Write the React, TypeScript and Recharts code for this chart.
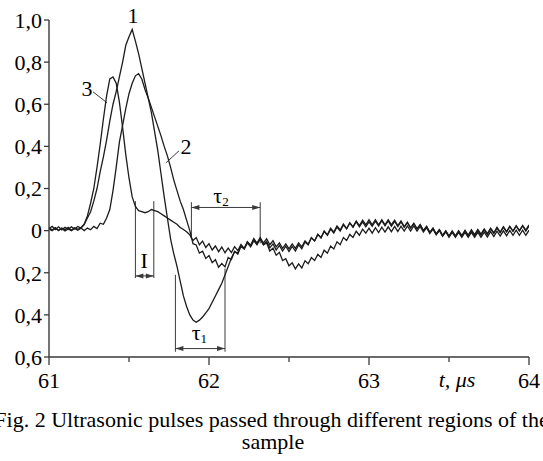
import React from 'react';
import { LineChart, Line, XAxis, YAxis, ReferenceLine, ReferenceDot } from 'recharts';

// sampling instants, µs
const time = [
  61.0, 61.02, 61.04, 61.06, 61.08, 61.1, 61.12, 61.14, 61.16, 61.18,
  61.2, 61.22, 61.24, 61.26, 61.28, 61.3, 61.32, 61.34, 61.36, 61.38,
  61.4, 61.42, 61.44, 61.46, 61.48, 61.5, 61.52, 61.54, 61.56, 61.58,
  61.6, 61.62, 61.64, 61.66, 61.68, 61.7, 61.72, 61.74, 61.76, 61.78,
  61.8, 61.82, 61.84, 61.86, 61.88, 61.9, 61.92, 61.94, 61.96, 61.98,
  62.0, 62.02, 62.04, 62.06, 62.08, 62.1, 62.12, 62.14, 62.16, 62.18,
  62.2, 62.22, 62.24, 62.26, 62.28, 62.3, 62.32, 62.34, 62.36, 62.38,
  62.4, 62.42, 62.44, 62.46, 62.48, 62.5, 62.52, 62.54, 62.56, 62.58,
  62.6, 62.62, 62.64, 62.66, 62.68, 62.7, 62.72, 62.74, 62.76, 62.78,
  62.8, 62.82, 62.84, 62.86, 62.88, 62.9, 62.92, 62.94, 62.96, 62.98,
  63.0, 63.02, 63.04, 63.06, 63.08, 63.1, 63.12, 63.14, 63.16, 63.18,
  63.2, 63.22, 63.24, 63.26, 63.28, 63.3, 63.32, 63.34, 63.36, 63.38,
  63.4, 63.42, 63.44, 63.46, 63.48, 63.5, 63.52, 63.54, 63.56, 63.58,
  63.6, 63.62, 63.64, 63.66, 63.68, 63.7, 63.72, 63.74, 63.76, 63.78,
  63.8, 63.82, 63.84, 63.86, 63.88, 63.9, 63.92, 63.94, 63.96, 63.98,
  64.0,
];

const pulse1 = [
  0.01, 0.02, 0.005, 0.018, 0.004, 0.016, 0.006, 0.018, 0.008, 0.02,
  0.012, 0.03, 0.06, 0.09, 0.14, 0.2, 0.28, 0.35, 0.43, 0.52,
  0.6, 0.66, 0.73, 0.8, 0.88, 0.92, 0.955, 0.9, 0.84, 0.77,
  0.7, 0.63, 0.56, 0.47, 0.38, 0.27, 0.16, 0.06, -0.04, -0.11,
  -0.17, -0.24, -0.31, -0.36, -0.4, -0.425, -0.435, -0.425, -0.41, -0.39,
  -0.37, -0.34, -0.31, -0.28, -0.25, -0.21, -0.17, -0.13, -0.1, -0.107,
  -0.073, -0.087, -0.053, -0.07, -0.038, -0.059, -0.033, -0.059, -0.038, -0.067,
  -0.048, -0.077, -0.058, -0.084, -0.063, -0.087, -0.063, -0.084, -0.058, -0.077,
  -0.048, -0.064, -0.033, -0.049, -0.018, -0.034, -0.003, -0.02, 0.012, -0.007,
  0.022, 0.003, 0.032, 0.01, 0.037, 0.016, 0.042, 0.018, 0.042, 0.018,
  0.042, 0.02, 0.045, 0.022, 0.047, 0.023, 0.046, 0.021, 0.044, 0.019,
  0.042, 0.016, 0.038, 0.012, 0.034, 0.008, 0.028, 0.0, 0.02, -0.008,
  0.012, -0.016, 0.004, -0.023, -0.002, -0.027, -0.004, -0.028, -0.004, -0.027,
  -0.003, -0.026, -0.001, -0.024, 0.001, -0.022, 0.004, -0.018, 0.008, -0.014,
  0.012, -0.01, 0.016, -0.006, 0.02, -0.002, 0.023, 0.0, 0.025, 0.002,
  0.027,
];

const pulse2 = [
  0.008, 0.0, 0.012, 0.002, 0.01, -0.002, 0.008, 0.0, 0.01, 0.002,
  0.012, 0.0, 0.012, 0.004, 0.02, 0.01, 0.035, 0.03, 0.06, 0.1,
  0.19, 0.3, 0.42, 0.5, 0.58, 0.65, 0.7, 0.735, 0.745, 0.72,
  0.67, 0.63, 0.585, 0.54, 0.495, 0.45, 0.4, 0.355, 0.3, 0.24,
  0.19, 0.14, 0.1, 0.05, 0.0, -0.062, -0.068, -0.107, -0.098, -0.132,
  -0.118, -0.152, -0.138, -0.174, -0.156, -0.172, -0.128, -0.137, -0.098, -0.112,
  -0.073, -0.087, -0.058, -0.077, -0.048, -0.067, -0.038, -0.067, -0.058, -0.097,
  -0.083, -0.117, -0.103, -0.142, -0.133, -0.167, -0.153, -0.182, -0.158, -0.177,
  -0.143, -0.157, -0.128, -0.142, -0.113, -0.127, -0.093, -0.107, -0.073, -0.087,
  -0.053, -0.067, -0.033, -0.047, -0.018, -0.032, -0.003, -0.022, 0.007, -0.012,
  0.012, -0.012, 0.014, -0.009, 0.016, -0.007, 0.018, -0.005, 0.02, -0.004,
  0.021, -0.002, 0.022, -0.002, 0.022, -0.002, 0.02, -0.007, 0.014, -0.014,
  0.007, -0.02, 0.0, -0.027, -0.006, -0.032, -0.008, -0.032, -0.008, -0.032,
  -0.008, -0.032, -0.008, -0.032, -0.008, -0.032, -0.007, -0.03, -0.005, -0.028,
  -0.003, -0.026, -0.001, -0.024, 0.001, -0.022, 0.002, -0.022, 0.002, -0.022,
  0.002,
];

const pulse3 = [
  0.015, 0.003, 0.014, 0.0, 0.012, 0.004, 0.016, 0.002, 0.014, 0.006,
  0.015, 0.03, 0.07, 0.13, 0.2, 0.3, 0.41, 0.53, 0.64, 0.72,
  0.73, 0.7, 0.61, 0.49, 0.36, 0.25, 0.16, 0.115, 0.095, 0.09,
  0.085, 0.09, 0.1, 0.095, 0.09, 0.08, 0.07, 0.06, 0.05, 0.04,
  0.03, 0.015, 0.005, -0.005, -0.02, -0.047, -0.033, -0.067, -0.05, -0.08,
  -0.062, -0.092, -0.073, -0.1, -0.078, -0.105, -0.083, -0.104, -0.076, -0.095,
  -0.066, -0.084, -0.054, -0.072, -0.043, -0.062, -0.038, -0.067, -0.051, -0.082,
  -0.063, -0.092, -0.07, -0.097, -0.074, -0.099, -0.075, -0.097, -0.068, -0.086,
  -0.054, -0.068, -0.034, -0.049, -0.018, -0.034, -0.003, -0.022, 0.007, -0.012,
  0.017, -0.002, 0.027, 0.008, 0.037, 0.018, 0.046, 0.024, 0.05, 0.028,
  0.052, 0.028, 0.052, 0.028, 0.052, 0.028, 0.052, 0.028, 0.05, 0.024,
  0.046, 0.019, 0.04, 0.013, 0.034, 0.008, 0.028, 0.0, 0.02, -0.008,
  0.012, -0.016, 0.004, -0.023, -0.001, -0.026, -0.002, -0.025, 0.0, -0.023,
  0.002, -0.021, 0.004, -0.019, 0.006, -0.017, 0.008, -0.014, 0.012, -0.01,
  0.016, -0.007, 0.018, -0.005, 0.02, -0.003, 0.022, -0.002, 0.022, -0.002,
  0.022,
];

const xTicks = [61, 61.5, 62, 62.5, 63, 63.5, 64];
const xTickLabels = ['61', '', '62', '', '63', '', '64'];
const yTicks = [-0.6, -0.4, -0.2, 0, 0.2, 0.4, 0.6, 0.8, 1.0];
const yTickLabels = ['0,6', '0,4', '0,2', '0', '0,2', '0,4', '0,6', '0,8', '1,0'];

const data = time.map((t, i) => ({ t, p1: pulse1[i], p2: pulse2[i], p3: pulse3[i] }));

const FONT = 'Liberation Serif, DejaVu Serif, serif';
const INK = '#1c1c1c';
const GUIDE = '#3a3a3a';

const XTick = (props: any) => {
  const { x, y, payload } = props;
  const idx = xTicks.indexOf(payload.value);
  const label = xTickLabels[idx];
  return (
    <g>
      <line x1={x} x2={x} y1={y} y2={y + (label ? 8 : 5)} stroke={GUIDE} strokeWidth={1.3} />
      {label && (
        <text x={x} y={y + 31} textAnchor="middle" style={{ fontFamily: FONT }} fontSize={22} fill="#000">
          {label}
        </text>
      )}
    </g>
  );
};

const DimArrow = (props: any) => {
  const { x1, x2, y1 } = props;
  const a = Math.min(x1, x2);
  const b = Math.max(x1, x2);
  return (
    <g>
      <line x1={a} x2={b} y1={y1} y2={y1} stroke={GUIDE} strokeWidth={1} />
      <polygon points={`${a},${y1} ${a + 8},${y1 - 2.5} ${a + 8},${y1 + 2.5}`} fill={GUIDE} />
      <polygon points={`${b},${y1} ${b - 8},${y1 - 2.5} ${b - 8},${y1 + 2.5}`} fill={GUIDE} />
    </g>
  );
};

const textShape = (content: React.ReactNode, italic = false) => (p: any) => (
  <text
    x={p.cx}
    y={p.cy}
    textAnchor="middle"
    dominantBaseline="central"
    style={{ fontFamily: FONT }}
    fontSize={22}
    fontStyle={italic ? 'italic' : 'normal'}
    fill="#000"
  >
    {content}
  </text>
);

const tauLabel = (sub: string) => (
  <>
    <tspan>τ</tspan>
    <tspan fontSize={13} dy={6}>{sub}</tspan>
  </>
);

const vLine = (x: number, yTop: number, yBottom: number, key: string) => (
  <ReferenceLine
    key={key}
    segment={[{ x, y: yTop }, { x, y: yBottom }]}
    stroke={GUIDE}
    strokeWidth={1}
  />
);

const App = () => {
  return (
    <div style={{ position: 'absolute', left: 0, top: 0, width: 543, height: 461, background: '#fff', fontFamily: FONT }}>
      <LineChart width={543} height={400} data={data} margin={{ top: 20, right: 14, bottom: 13, left: 0 }}>
        <XAxis
          dataKey="t"
          type="number"
          domain={[61, 64]}
          ticks={xTicks}
          tick={<XTick />}
          tickLine={false}
          tickSize={0}
          tickMargin={0}
          height={30}
          axisLine={{ stroke: GUIDE, strokeWidth: 1.4 }}
          allowDataOverflow
        />
        <YAxis
          type="number"
          domain={[-0.6, 1.0]}
          ticks={yTicks}
          tickFormatter={(v: number) => yTickLabels[yTicks.findIndex((t) => Math.abs(t - v) < 1e-6)]}
          width={49}
          tickSize={5}
          tickMargin={2}
          tickLine={{ stroke: GUIDE, strokeWidth: 1.3 }}
          axisLine={{ stroke: GUIDE, strokeWidth: 1.4 }}
          tick={{ fill: '#000', fontSize: 22, style: { fontFamily: FONT } }}
          allowDataOverflow
        />

        {/* I bracket */}
        {vLine(61.54, 0.14, -0.225, 'i-l')}
        {vLine(61.655, 0.14, -0.225, 'i-r')}
        <ReferenceLine segment={[{ x: 61.54, y: -0.215 }, { x: 61.655, y: -0.215 }]} shape={<DimArrow />} />

        {/* tau2 bracket */}
        {vLine(61.89, 0.135, -0.04, 't2-l')}
        {vLine(62.32, 0.135, -0.06, 't2-r')}
        <ReferenceLine segment={[{ x: 61.89, y: 0.11 }, { x: 62.32, y: 0.11 }]} shape={<DimArrow />} />

        {/* tau1 bracket */}
        {vLine(61.79, -0.21, -0.575, 't1-l')}
        {vLine(62.1, -0.18, -0.575, 't1-r')}
        <ReferenceLine segment={[{ x: 61.79, y: -0.56 }, { x: 62.1, y: -0.56 }]} shape={<DimArrow />} />

        {/* curve label leaders */}
        <ReferenceLine segment={[{ x: 61.8125, y: 0.379 }, { x: 61.731, y: 0.322 }]} stroke={GUIDE} strokeWidth={1} />
        <ReferenceLine segment={[{ x: 61.275, y: 0.659 }, { x: 61.3625, y: 0.607 }]} stroke={GUIDE} strokeWidth={1} />

        <Line type="linear" dataKey="p2" stroke={INK} strokeWidth={1.3} dot={false} isAnimationActive={false} />
        <Line type="linear" dataKey="p3" stroke={INK} strokeWidth={1.3} dot={false} isAnimationActive={false} />
        <Line type="linear" dataKey="p1" stroke={INK} strokeWidth={1.3} dot={false} isAnimationActive={false} />

        <ReferenceDot x={61.525} y={1.02} ifOverflow="visible" shape={textShape('1')} />
        <ReferenceDot x={61.856} y={0.398} ifOverflow="visible" shape={textShape('2')} />
        <ReferenceDot x={61.2375} y={0.673} ifOverflow="visible" shape={textShape('3')} />
        <ReferenceDot x={61.595} y={-0.14} ifOverflow="visible" shape={textShape('I')} />
        <ReferenceDot x={61.94} y={-0.48} ifOverflow="visible" shape={textShape(tauLabel('1'))} />
        <ReferenceDot x={62.075} y={0.17} ifOverflow="visible" shape={textShape(tauLabel('2'))} />
        <ReferenceDot x={63.55} y={-0.706} ifOverflow="visible" shape={textShape('t, μs', true)} />
      </LineChart>
      <svg
        width={543}
        height={461}
        style={{ position: 'absolute', left: 0, top: 0, pointerEvents: 'none' }}
      >
        <text x={271.5} y={427} textAnchor="middle" style={{ fontFamily: FONT }} fontSize={22} fill="#000">
          Fig. 2 Ultrasonic pulses passed through different regions of the
        </text>
        <text x={273} y={449} textAnchor="middle" style={{ fontFamily: FONT }} fontSize={22} fill="#000">
          sample
        </text>
      </svg>
    </div>
  );
};

export default App;
